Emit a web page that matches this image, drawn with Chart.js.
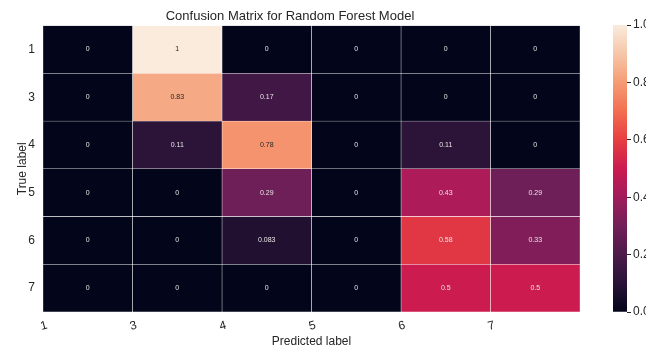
<!DOCTYPE html>
<html>
<head>
<meta charset="utf-8">
<script src="https://cdn.jsdelivr.net/npm/chart.js@4"></script>
<style>
    html, body { margin: 0; padding: 0; background: #fff; }
    #wrap { position: relative; width: 646px; height: 350px; }
    #heatmap { position: absolute; left: 0; top: 0; }
    #colorbar { position: absolute; left: 600px; top: 0; }
</style>
</head>
<body>
<div id="wrap">
    <canvas id="heatmap" width="646" height="350"></canvas>
    <canvas id="colorbar" width="46" height="350"></canvas>
</div>
<script>
// ============================================
// CONFUSION MATRIX - RANDOM FOREST
// ============================================

const trueLabels = ['1', '3', '4', '5', '6', '7'];
const predictedLabels = ['1', '3', '4', '5', '6', '7'];

// rows = true label, columns = predicted label
const row1 = [0, 1, 0, 0, 0, 0];
const row3 = [0, 0.83, 0.17, 0, 0, 0];
const row4 = [0, 0.11, 0.78, 0, 0.11, 0];
const row5 = [0, 0, 0.29, 0, 0.43, 0.29];
const row6 = [0, 0, 0.083, 0, 0.58, 0.33];
const row7 = [0, 0, 0, 0, 0.5, 0.5];
const matrix = [row1, row3, row4, row5, row6, row7];

const colorbarTicks = [0, 0.2, 0.4, 0.6, 0.8, 1.0];

// rocket colormap (approx)
const rocket = [
    [3, 5, 26], [40, 18, 54], [76, 27, 75], [115, 31, 88], [160, 27, 92],
    [203, 27, 79], [231, 62, 65], [242, 110, 80], [245, 156, 116],
    [246, 198, 168], [250, 235, 221]
];

function rocketColor(v) {
    const t = Math.max(0, Math.min(1, v)) * (rocket.length - 1);
    const i = Math.min(Math.floor(t), rocket.length - 2);
    const f = t - i;
    const a = rocket[i], b = rocket[i + 1];
    const c = a.map((x, k) => Math.round(x + (b[k] - x) * f));
    return `rgb(${c[0]}, ${c[1]}, ${c[2]})`;
}

const textColor = '#262626';
Chart.defaults.font.family = '"Liberation Sans", Arial, sans-serif';
Chart.defaults.color = textColor;

// one dataset per predicted column, floating bars [c, c+1]
const datasets = predictedLabels.map((lbl, c) => ({
    label: lbl,
    data: matrix.map(() => [c, c + 1]),
    values: matrix.map(row => row[c]),
    backgroundColor: matrix.map(row => rocketColor(row[c])),
    borderColor: 'rgba(255, 255, 255, 0.95)',
    borderWidth: 0.5,
    borderSkipped: false,
    barPercentage: 1,
    categoryPercentage: 1
}));

const cellLabels = {
    id: 'cellLabels',
    afterDatasetsDraw(chart) {
        const ctx = chart.ctx;
        ctx.save();
        ctx.font = '7px "Liberation Sans", Arial, sans-serif';
        ctx.textAlign = 'center';
        ctx.textBaseline = 'middle';
        chart.data.datasets.forEach((ds, di) => {
            chart.getDatasetMeta(di).data.forEach((bar, i) => {
                const v = ds.values[i];
                const p = bar.getCenterPoint();
                ctx.fillStyle = v > 0.6 ? textColor : '#e6e6e6';
                ctx.fillText(String(v), p.x, p.y);
            });
        });
        ctx.restore();
    }
};

new Chart(document.getElementById('heatmap'), {
    type: 'bar',
    data: { labels: trueLabels, datasets: datasets },
    options: {
        indexAxis: 'y',
        responsive: false,
        animation: false,
        layout: { padding: { left: 0, right: 66, top: 0, bottom: 0 } },
        plugins: {
            legend: { display: false },
            tooltip: { enabled: false },
            title: {
                display: true,
                text: 'Confusion Matrix for Random Forest Model',
                color: textColor,
                font: { size: 13, weight: 'normal' },
                padding: { top: 9, bottom: 1 }
            }
        },
        scales: {
            y: {
                stacked: true,
                grid: { display: false, drawTicks: false },
                border: { display: false },
                ticks: { font: { size: 12 }, padding: 8 },
                title: {
                    display: true,
                    text: 'True label',
                    font: { size: 12 },
                    padding: { top: 15, bottom: 0 }
                },
                afterFit(scale) { scale.width = 43; }
            },
            x: {
                min: 0,
                max: 6,
                grid: { display: false, drawTicks: false },
                border: { display: false },
                ticks: {
                    stepSize: 1,
                    autoSkip: false,
                    minRotation: 15,
                    maxRotation: 15,
                    padding: 6,
                    labelOffset: 4,
                    font: { size: 12 },
                    callback: (v) => predictedLabels[v] ?? ''
                },
                title: {
                    display: true,
                    text: 'Predicted label',
                    font: { size: 12 },
                    padding: { top: 0, bottom: 1 }
                },
                afterFit(scale) { scale.height = 38; }
            }
        }
    },
    plugins: [cellLabels]
});

// colorbar
new Chart(document.getElementById('colorbar'), {
    type: 'bar',
    data: {
        labels: [''],
        datasets: [{
            data: [[0, 1]],
            backgroundColor(ctx) {
                const area = ctx.chart.chartArea;
                if (!area) return rocketColor(0.5);
                const g = ctx.chart.ctx.createLinearGradient(0, area.bottom, 0, area.top);
                rocket.forEach((c, i) => g.addColorStop(i / (rocket.length - 1), `rgb(${c[0]}, ${c[1]}, ${c[2]})`));
                return g;
            },
            borderWidth: 0,
            barPercentage: 1,
            categoryPercentage: 1
        }]
    },
    options: {
        responsive: false,
        animation: false,
        layout: { padding: { left: 13, right: 0, top: 25, bottom: 38 } },
        plugins: { legend: { display: false }, tooltip: { enabled: false } },
        scales: {
            x: { display: false },
            y: {
                position: 'right',
                min: 0,
                max: 1,
                afterBuildTicks(scale) { scale.ticks = colorbarTicks.map(v => ({ value: v })); },
                grid: { drawOnChartArea: false, tickLength: 4, color: textColor, tickWidth: 1 },
                border: { display: false },
                ticks: {
                    font: { size: 12 },
                    padding: 2,
                    callback: (v) => v.toFixed(1)
                },
                afterFit(scale) { scale.width = 19; }
            }
        }
    }
});
</script>
</body>
</html>
